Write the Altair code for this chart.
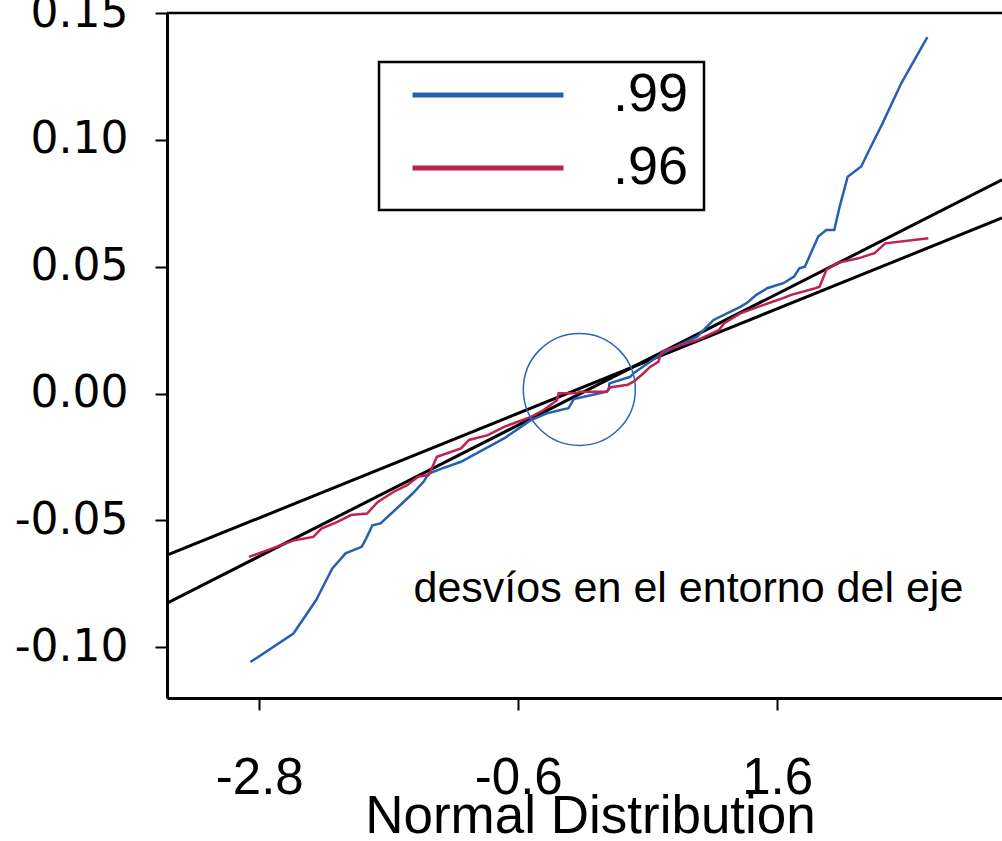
import altair as alt
import pandas as pd

# ---- data ----
blue_x = [-2.875, -2.51, -2.318, -2.181, -2.067, -1.93, -1.885, -1.839, -1.77, -1.633,
          -1.497, -1.405, -1.36, -1.245, -1.086, -0.904, -0.721, -0.493, -0.356, -0.242,
          -0.173, -0.128, 0.146, 0.168, 0.175, 0.352, 0.38, 0.603, 0.74, 0.921,
          1.059, 1.287, 1.35, 1.423, 1.515, 1.652, 1.743, 1.788, 1.835, 1.949,
          2.017, 2.085, 2.131, 2.199, 2.314, 2.382, 2.496, 2.655, 2.876]
blue_y = [-0.1058, -0.0946, -0.0815, -0.069, -0.063, -0.0604, -0.0565, -0.0519, -0.0512, -0.0453,
          -0.0394, -0.0348, -0.0315, -0.0295, -0.0269, -0.0223, -0.0177, -0.0105, -0.0078, -0.0065,
          -0.0058, -0.0022, 0.0007, 0.0014, 0.004, 0.0066, 0.008, 0.0152, 0.0185, 0.0224,
          0.029, 0.0342, 0.036, 0.0389, 0.0415, 0.0435, 0.0461, 0.0494, 0.05, 0.0619,
          0.0645, 0.0645, 0.0737, 0.0855, 0.0895, 0.096, 0.1066, 0.1224, 0.1405]

red_x = [-2.888, -2.729, -2.5, -2.341, -2.272, -2.136, -2.021, -1.884, -1.793, -1.657,
         -1.543, -1.451, -1.36, -1.291, -1.086, -1.018, -0.858, -0.721, -0.492, -0.384,
         -0.271, -0.257, -0.10, -0.08, 0.153, 0.17, 0.19, 0.33, 0.38, 0.465,
         0.52, 0.59, 0.62, 0.74, 0.921, 1.104, 1.15, 1.287, 1.56, 1.65,
         1.72, 1.924, 1.96, 2.017, 2.108, 2.289, 2.427, 2.519, 2.884]
red_y = [-0.0644, -0.0617, -0.0578, -0.0565, -0.0532, -0.0506, -0.0479, -0.0473, -0.0427, -0.0387,
         -0.0361, -0.0328, -0.0321, -0.0249, -0.0216, -0.0183, -0.0164, -0.0131, -0.0092, -0.0065,
         -0.0026, 0.0001, 0.0001, 0.0007, 0.0007, 0.002, 0.0025, 0.0035, 0.0047, 0.008,
         0.0105, 0.0125, 0.0165, 0.0185, 0.0211, 0.025, 0.0277, 0.0316, 0.0362, 0.0376,
         0.0389, 0.0415, 0.0421, 0.0487, 0.0514, 0.0533, 0.0553, 0.0592, 0.0612]

series_names = [".99", ".96"]
series_colors = ["#2660b0", "#c0214f"]

# two straight reference lines (end points)
ref_a_x = [-3.584, 3.51]
ref_a_y = [-0.0826, 0.0842]
ref_b_x = [-3.584, 3.51]
ref_b_y = [-0.0637, 0.0692]

circle_x = [-0.081]
circle_y = [0.0016]

note_text = ["desvíos en el entorno del eje"]
note_x = [-1.49]
note_y = [-0.0822]

x_ticks = [-2.8, -0.6, 1.6]
y_ticks = [-0.10, -0.05, 0.00, 0.05, 0.10, 0.15]
x_domain = [-3.584, 3.51]
y_domain = [-0.12, 0.15]

# ---- tables ----
rows = []
for i, (xv, yv) in enumerate(zip(blue_x, blue_y)):
    rows.append({"x": xv, "y": yv, "s": series_names[0], "o": i})
for i, (xv, yv) in enumerate(zip(red_x, red_y)):
    rows.append({"x": xv, "y": yv, "s": series_names[1], "o": i})
series_df = pd.DataFrame(rows)

ref_rows = []
for xv, yv in zip(ref_a_x, ref_a_y):
    ref_rows.append({"x": xv, "y": yv, "l": "a"})
for xv, yv in zip(ref_b_x, ref_b_y):
    ref_rows.append({"x": xv, "y": yv, "l": "b"})
ref_df = pd.DataFrame(ref_rows)

circle_df = pd.DataFrame({"x": circle_x, "y": circle_y})
note_df = pd.DataFrame({"x": note_x, "y": note_y, "t": note_text})

SANS = "Liberation Sans, Arial"
HYPHEN = "replace(datum.label, '\u2212', '-')"

xscale = alt.Scale(domain=x_domain, nice=False, zero=False)
yscale = alt.Scale(domain=y_domain, nice=False, zero=False)

x_axis = alt.Axis(
    values=x_ticks, format=".1f", labelExpr=HYPHEN, grid=False,
    domainColor="black", domainWidth=3,
    tickColor="black", tickWidth=2, tickSize=12,
    labelFont=SANS, labelFontSize=51, labelColor="black", labelPadding=43,
    labelFlush=False, labelOverlap=False,
    title="Normal Distribution", titleFont=SANS, titleFontSize=53,
    titleFontWeight="normal", titleColor="black",
    titleX=423, titleY=134, titleBaseline="alphabetic", titleAlign="center",
)
y_axis = alt.Axis(
    values=y_ticks, format=".2f", labelExpr=HYPHEN, grid=False,
    domainColor="black", domainWidth=3,
    tickColor="black", tickWidth=2, tickSize=12,
    labelFont="DejaVu Sans", labelFontSize=44, labelColor="black", labelPadding=27,
    labelFlush=False, labelOverlap=False,
)

series = alt.Chart(series_df).mark_line(strokeWidth=2.5, clip=True).encode(
    x=alt.X("x:Q", scale=xscale, axis=x_axis),
    y=alt.Y("y:Q", scale=yscale, axis=y_axis, title=None),
    color=alt.Color(
        "s:N",
        scale=alt.Scale(domain=series_names, range=series_colors),
        sort=series_names,
        legend=alt.Legend(
            title=None, orient="none", legendX=212, legendY=49,
            symbolType="stroke", symbolSize=22801, symbolStrokeWidth=5,
            symbolOffset=16, labelOffset=47, clipHeight=36,
            labelFont=SANS, labelFontSize=54, labelColor="black",
            rowPadding=19, padding=15,
            strokeColor="black",
        ),
    ),
    order="o:Q",
)

refs = alt.Chart(ref_df).mark_line(color="black", strokeWidth=3, clip=True).encode(
    x=alt.X("x:Q", scale=xscale),
    y=alt.Y("y:Q", scale=yscale),
    detail="l:N",
)

circle = alt.Chart(circle_df).mark_point(
    shape="circle", size=12544, filled=False, color="#2a66b8", strokeWidth=1.5, opacity=1
).encode(
    x=alt.X("x:Q", scale=xscale),
    y=alt.Y("y:Q", scale=yscale),
)

note = alt.Chart(note_df).mark_text(
    font=SANS, fontSize=43, align="left", baseline="alphabetic", color="black"
).encode(
    x=alt.X("x:Q", scale=xscale),
    y=alt.Y("y:Q", scale=yscale),
    text="t:N",
)

top_border = alt.Chart(pd.DataFrame({"v": [y_domain[1]]})).mark_rule(
    color="black", strokeWidth=2.5
).encode(y=alt.Y("v:Q", scale=yscale))

chart = alt.layer(refs, series, circle, note, top_border).properties(
    width=835, height=685,
    padding={"left": 167, "top": 13, "right": 0, "bottom": 143},
    autosize=alt.AutoSizeParams(type="none"),
    background="white",
).configure_view(stroke=None).configure_legend(strokeWidth=2.5)

chart.save("out.html", embed_options={"renderer": "svg", "actions": False})
